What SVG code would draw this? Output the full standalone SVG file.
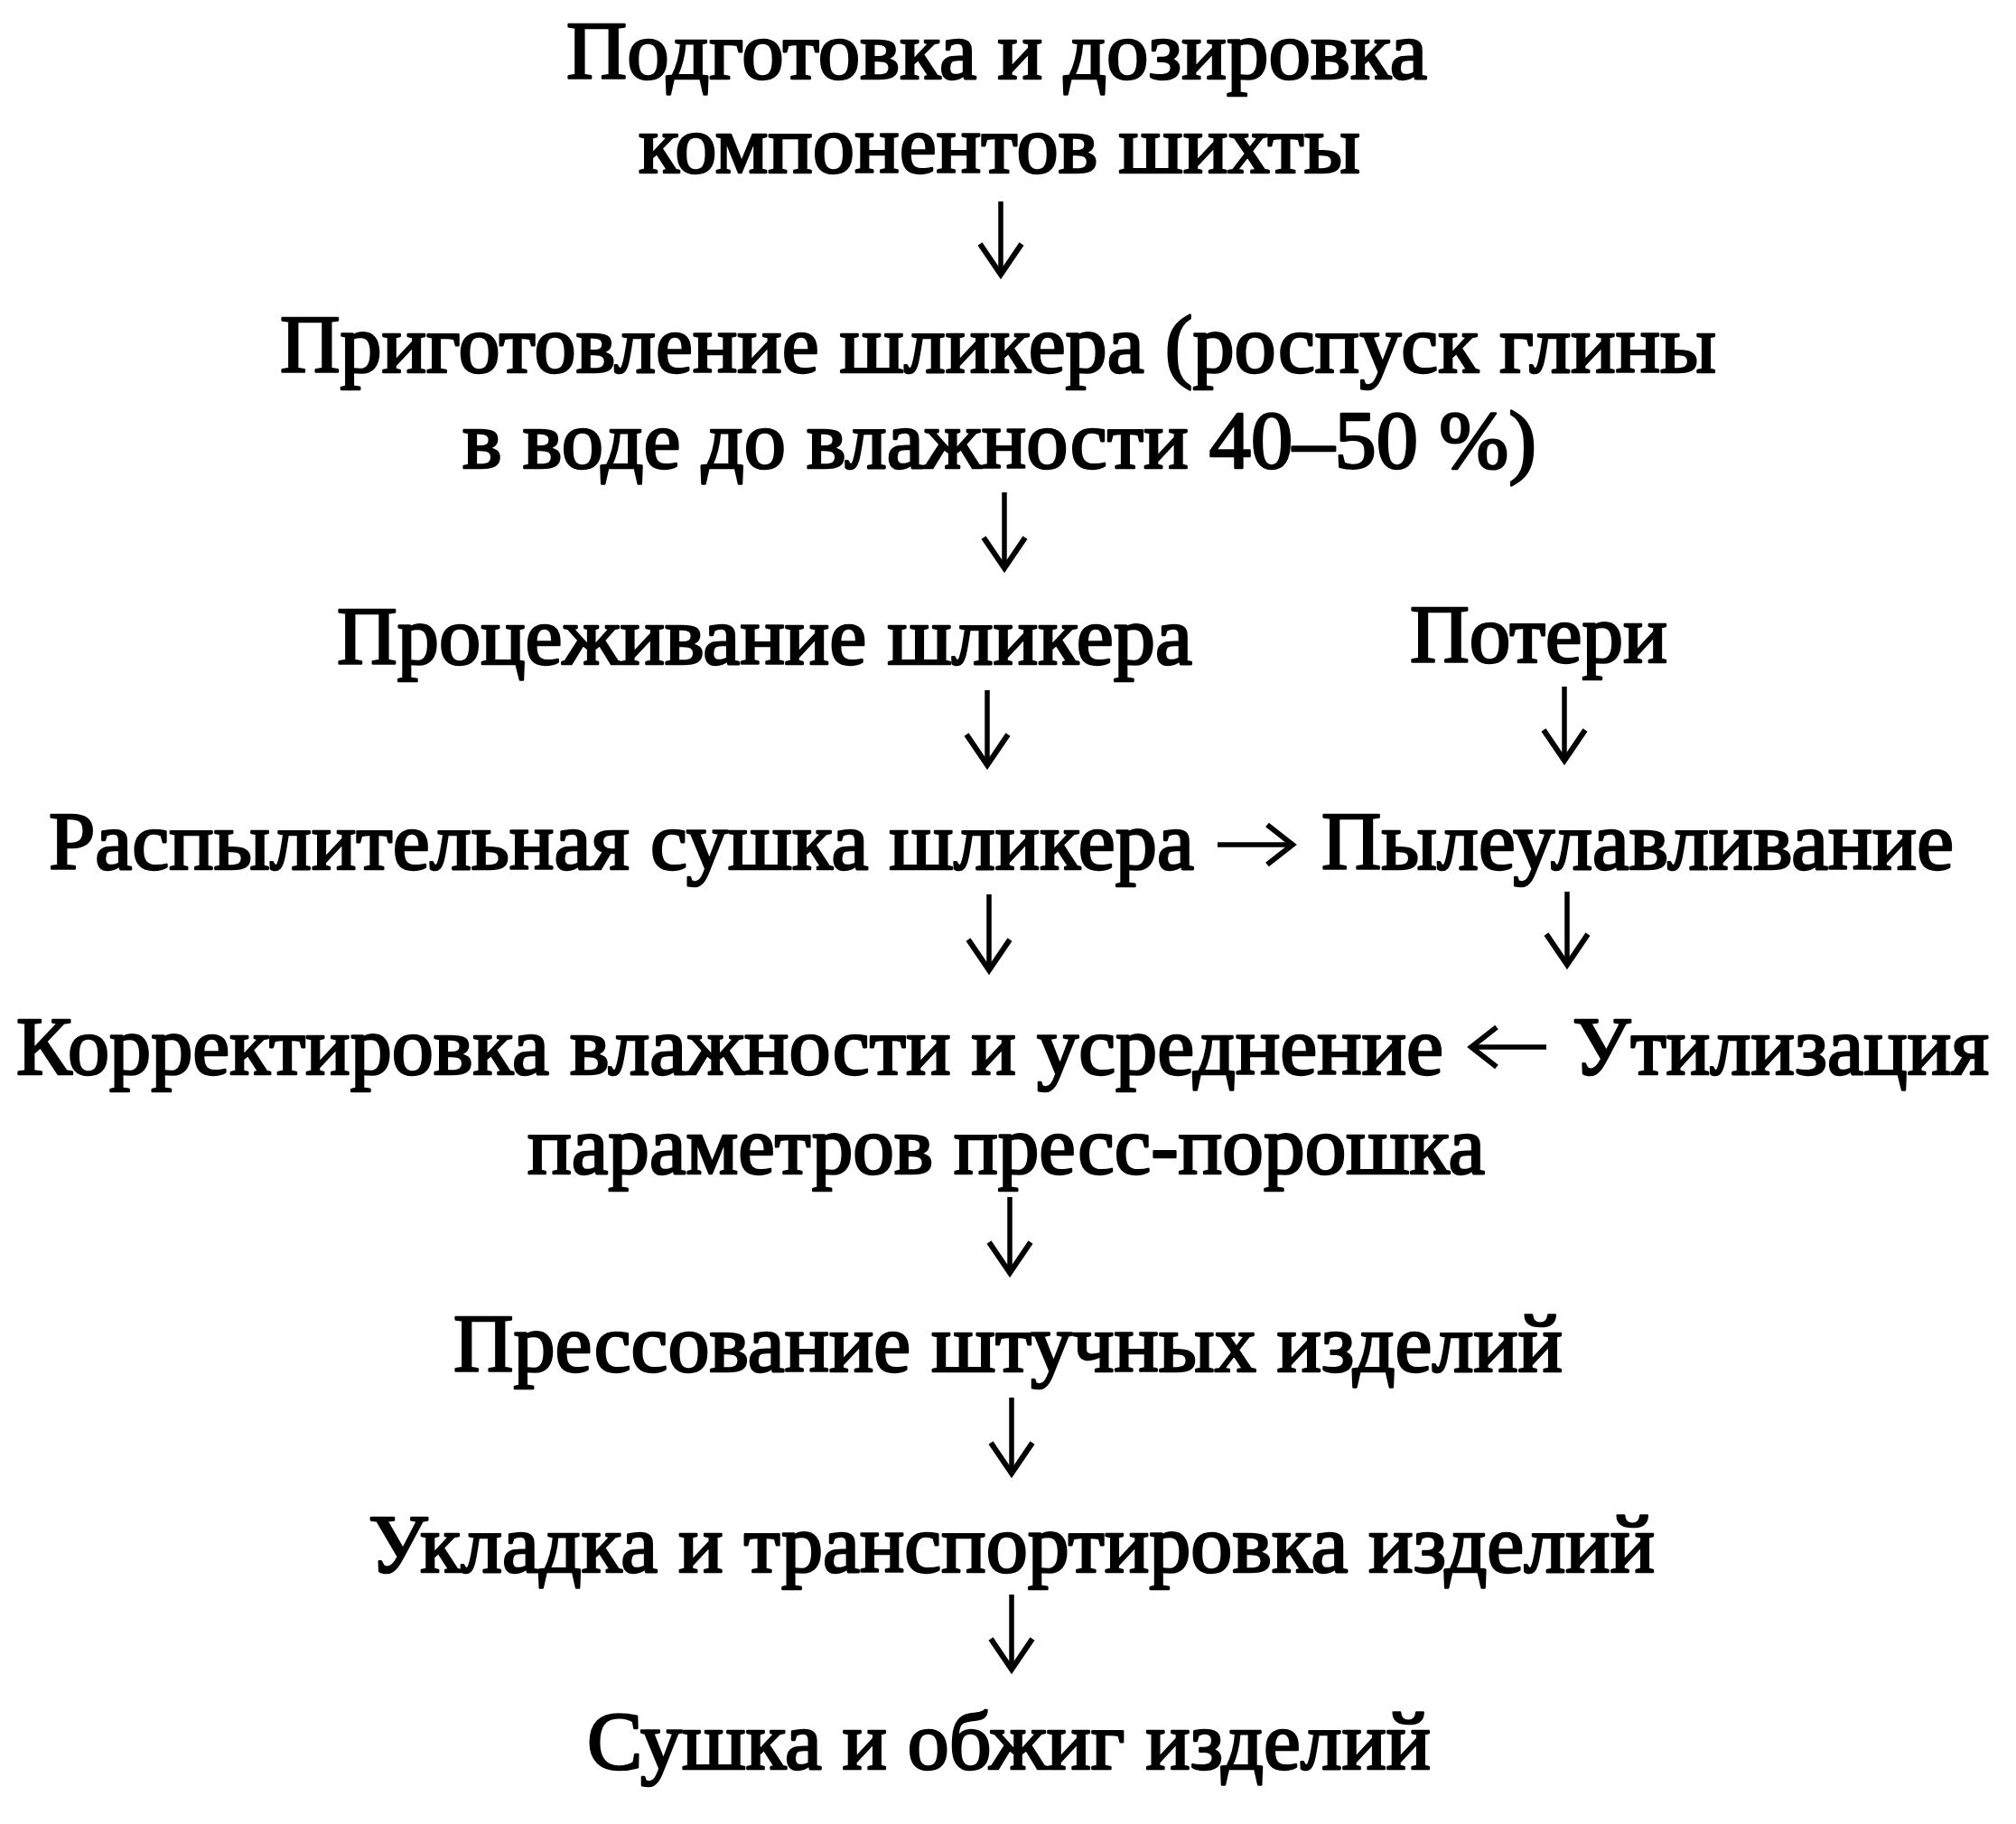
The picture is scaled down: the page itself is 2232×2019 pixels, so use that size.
<svg xmlns="http://www.w3.org/2000/svg" width="2232" height="2019" viewBox="0 0 2232 2019">
<style>
.t{font-family:"Liberation Serif","Times New Roman",serif;font-size:92px;fill:#000;stroke:#000;stroke-width:2.6px;stroke-linejoin:round}
.c{stroke:#000;stroke-width:5.5;fill:none}
</style>
<defs>
<marker id="va" markerUnits="userSpaceOnUse" viewBox="-40 -30 46 60" refX="0" refY="0" markerWidth="46" markerHeight="60" orient="auto" overflow="visible">
<path d="M-34,-23 L0,0 L-34,23" fill="none" stroke="#000" stroke-width="6" stroke-linejoin="miter"/>
</marker>
<marker id="ha" markerUnits="userSpaceOnUse" viewBox="-34 -30 40 60" refX="0" refY="0" markerWidth="40" markerHeight="60" orient="auto" overflow="visible">
<path d="M-28,-22 L0,0 L-28,22" fill="none" stroke="#000" stroke-width="6" stroke-linejoin="miter"/>
</marker>
</defs>
<rect width="2232" height="2019" fill="#fff"/>
<g id="n1"><text class="t" x="627" y="87" textLength="953" lengthAdjust="spacingAndGlyphs">Подготовка и дозировка</text>
<text class="t" x="707" y="191" textLength="799" lengthAdjust="spacingAndGlyphs">компонентов шихты</text></g>
<g id="n2"><text class="t" x="310" y="412" textLength="1590" lengthAdjust="spacingAndGlyphs">Приготовление шликера (роспуск глины</text>
<text class="t" x="512" y="518" textLength="1189" lengthAdjust="spacingAndGlyphs">в воде до влажности 40–50 %)</text></g>
<g id="n3"><text class="t" x="373" y="735" textLength="947" lengthAdjust="spacingAndGlyphs">Процеживание шликера</text></g>
<g id="n4"><text class="t" x="1561" y="733" textLength="285" lengthAdjust="spacingAndGlyphs">Потери</text></g>
<g id="n5"><text class="t" x="54" y="962" textLength="1268" lengthAdjust="spacingAndGlyphs">Распылительная сушка шликера</text></g>
<g id="n6"><text class="t" x="1463" y="962" textLength="700" lengthAdjust="spacingAndGlyphs">Пылеулавливание</text></g>
<g id="n7"><text class="t" x="18" y="1189" textLength="1580" lengthAdjust="spacingAndGlyphs">Корректировка влажности и усреднение</text>
<text class="t" x="584" y="1299" textLength="1060" lengthAdjust="spacingAndGlyphs">параметров пресс-порошка</text></g>
<g id="n8"><text class="t" x="1741" y="1189" textLength="461" lengthAdjust="spacingAndGlyphs">Утилизация</text></g>
<g id="n9"><text class="t" x="502" y="1518" textLength="1228" lengthAdjust="spacingAndGlyphs">Прессование штучных изделий</text></g>
<g id="n10"><text class="t" x="408" y="1740" textLength="1424" lengthAdjust="spacingAndGlyphs">Укладка и транспортировка изделий</text></g>
<g id="n11"><text class="t" x="650" y="1958" textLength="934" lengthAdjust="spacingAndGlyphs">Сушка и обжиг изделий</text></g>
<g id="connectors">
<line class="c" x1="1108" y1="223" x2="1108" y2="304" marker-end="url(#va)"/>
<line class="c" x1="1112" y1="545" x2="1112" y2="629" marker-end="url(#va)"/>
<line class="c" x1="1093" y1="764" x2="1093" y2="847" marker-end="url(#va)"/>
<line class="c" x1="1732" y1="760" x2="1732" y2="842" marker-end="url(#va)"/>
<line class="c" x1="1095" y1="990" x2="1095" y2="1074" marker-end="url(#va)"/>
<line class="c" x1="1735" y1="987" x2="1735" y2="1068" marker-end="url(#va)"/>
<line class="c" x1="1118" y1="1325" x2="1118" y2="1409" marker-end="url(#va)"/>
<line class="c" x1="1120" y1="1547" x2="1120" y2="1631" marker-end="url(#va)"/>
<line class="c" x1="1120" y1="1765" x2="1120" y2="1848" marker-end="url(#va)"/>
<line class="c" x1="1348" y1="935" x2="1431" y2="935" marker-end="url(#ha)"/>
<line class="c" x1="1712" y1="1159" x2="1629" y2="1159" marker-end="url(#ha)"/>
</g>
</svg>
